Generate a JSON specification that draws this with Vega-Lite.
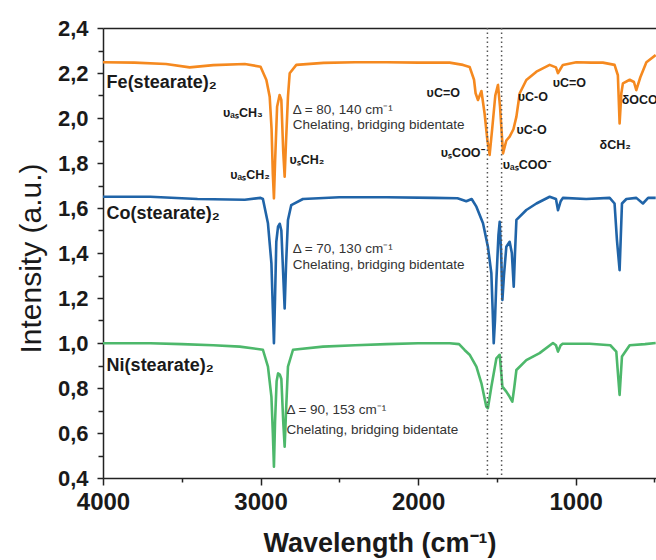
{
  "$schema": "https://vega.github.io/schema/vega-lite/v6.json",
  "autosize": "none",
  "padding": {"left": 103, "top": 28, "right": 0, "bottom": 82},
  "width": 553,
  "height": 450,
  "background": "white",
  "config": {
    "view": {"stroke": null},
    "font": "Liberation Sans",
    "axis": {"grid": false, "domainColor": "#222", "tickColor": "#222", "domainWidth": 1.5, "tickWidth": 1.5, "labelColor": "#1a1a1a", "titleColor": "#1a1a1a", "labelFont": "Liberation Sans", "titleFont": "Liberation Sans"}
  },
  "datasets": {
    "spectra": [
      {"s":"Fe","x":4000,"y":2.248},{"s":"Fe","x":3800,"y":2.246},{"s":"Fe","x":3600,"y":2.24},{"s":"Fe","x":3450,"y":2.225},{"s":"Fe","x":3300,"y":2.235},{"s":"Fe","x":3100,"y":2.24},{"s":"Fe","x":3000,"y":2.228},{"s":"Fe","x":2963,"y":2.169},{"s":"Fe","x":2942,"y":2.095},{"s":"Fe","x":2930,"y":1.95},{"s":"Fe","x":2922,"y":1.75},{"s":"Fe","x":2915,"y":1.643},{"s":"Fe","x":2908,"y":1.8},{"s":"Fe","x":2895,"y":2.05},{"s":"Fe","x":2879,"y":2.102},{"s":"Fe","x":2868,"y":2.08},{"s":"Fe","x":2856,"y":1.85},{"s":"Fe","x":2847,"y":1.739},{"s":"Fe","x":2838,"y":1.9},{"s":"Fe","x":2826,"y":2.095},{"s":"Fe","x":2815,"y":2.199},{"s":"Fe","x":2773,"y":2.236},{"s":"Fe","x":2600,"y":2.245},{"s":"Fe","x":2400,"y":2.248},{"s":"Fe","x":2200,"y":2.248},{"s":"Fe","x":2000,"y":2.246},{"s":"Fe","x":1800,"y":2.246},{"s":"Fe","x":1715,"y":2.236},{"s":"Fe","x":1673,"y":2.227},{"s":"Fe","x":1645,"y":2.17},{"s":"Fe","x":1635,"y":2.11},{"s":"Fe","x":1620,"y":2.08},{"s":"Fe","x":1598,"y":2.12},{"s":"Fe","x":1578,"y":2.02},{"s":"Fe","x":1560,"y":1.9},{"s":"Fe","x":1546,"y":1.836},{"s":"Fe","x":1530,"y":1.95},{"s":"Fe","x":1510,"y":2.1},{"s":"Fe","x":1493,"y":2.147},{"s":"Fe","x":1480,"y":2.05},{"s":"Fe","x":1461,"y":1.843},{"s":"Fe","x":1440,"y":1.9},{"s":"Fe","x":1419,"y":1.917},{"s":"Fe","x":1395,"y":1.95},{"s":"Fe","x":1376,"y":2.006},{"s":"Fe","x":1355,"y":2.11},{"s":"Fe","x":1313,"y":2.169},{"s":"Fe","x":1249,"y":2.206},{"s":"Fe","x":1165,"y":2.236},{"s":"Fe","x":1125,"y":2.225},{"s":"Fe","x":1112,"y":2.199},{"s":"Fe","x":1095,"y":2.22},{"s":"Fe","x":1081,"y":2.236},{"s":"Fe","x":996,"y":2.248},{"s":"Fe","x":900,"y":2.246},{"s":"Fe","x":827,"y":2.246},{"s":"Fe","x":753,"y":2.236},{"s":"Fe","x":732,"y":2.19},{"s":"Fe","x":721,"y":1.976},{"s":"Fe","x":710,"y":2.11},{"s":"Fe","x":700,"y":2.154},{"s":"Fe","x":657,"y":2.17},{"s":"Fe","x":630,"y":2.16},{"s":"Fe","x":615,"y":2.124},{"s":"Fe","x":590,"y":2.18},{"s":"Fe","x":551,"y":2.248},{"s":"Fe","x":492,"y":2.28},
      {"s":"Co","x":4000,"y":1.65},{"s":"Co","x":3700,"y":1.65},{"s":"Co","x":3400,"y":1.64},{"s":"Co","x":3100,"y":1.637},{"s":"Co","x":3000,"y":1.645},{"s":"Co","x":2985,"y":1.64},{"s":"Co","x":2953,"y":1.532},{"s":"Co","x":2931,"y":1.354},{"s":"Co","x":2922,"y":1.15},{"s":"Co","x":2915,"y":0.999},{"s":"Co","x":2908,"y":1.2},{"s":"Co","x":2900,"y":1.45},{"s":"Co","x":2889,"y":1.517},{"s":"Co","x":2878,"y":1.53},{"s":"Co","x":2868,"y":1.5},{"s":"Co","x":2856,"y":1.3},{"s":"Co","x":2847,"y":1.154},{"s":"Co","x":2838,"y":1.35},{"s":"Co","x":2826,"y":1.547},{"s":"Co","x":2805,"y":1.613},{"s":"Co","x":2731,"y":1.64},{"s":"Co","x":2500,"y":1.648},{"s":"Co","x":2200,"y":1.648},{"s":"Co","x":1900,"y":1.645},{"s":"Co","x":1750,"y":1.643},{"s":"Co","x":1694,"y":1.63},{"s":"Co","x":1660,"y":1.64},{"s":"Co","x":1630,"y":1.606},{"s":"Co","x":1588,"y":1.532},{"s":"Co","x":1557,"y":1.428},{"s":"Co","x":1535,"y":1.31},{"s":"Co","x":1527,"y":1.15},{"s":"Co","x":1520,"y":0.999},{"s":"Co","x":1512,"y":1.1},{"s":"Co","x":1503,"y":1.28},{"s":"Co","x":1490,"y":1.48},{"s":"Co","x":1482,"y":1.539},{"s":"Co","x":1473,"y":1.4},{"s":"Co","x":1465,"y":1.191},{"s":"Co","x":1455,"y":1.3},{"s":"Co","x":1440,"y":1.428},{"s":"Co","x":1419,"y":1.45},{"s":"Co","x":1405,"y":1.4},{"s":"Co","x":1393,"y":1.25},{"s":"Co","x":1385,"y":1.4},{"s":"Co","x":1376,"y":1.547},{"s":"Co","x":1313,"y":1.591},{"s":"Co","x":1249,"y":1.62},{"s":"Co","x":1165,"y":1.65},{"s":"Co","x":1125,"y":1.64},{"s":"Co","x":1112,"y":1.59},{"s":"Co","x":1095,"y":1.63},{"s":"Co","x":1081,"y":1.645},{"s":"Co","x":933,"y":1.64},{"s":"Co","x":784,"y":1.645},{"s":"Co","x":753,"y":1.62},{"s":"Co","x":738,"y":1.458},{"s":"Co","x":721,"y":1.324},{"s":"Co","x":706,"y":1.62},{"s":"Co","x":678,"y":1.64},{"s":"Co","x":615,"y":1.645},{"s":"Co","x":573,"y":1.62},{"s":"Co","x":540,"y":1.645},{"s":"Co","x":492,"y":1.645},
      {"s":"Ni","x":4000,"y":0.999},{"s":"Ni","x":3700,"y":0.999},{"s":"Ni","x":3500,"y":0.995},{"s":"Ni","x":3300,"y":0.99},{"s":"Ni","x":3132,"y":0.984},{"s":"Ni","x":2985,"y":0.97},{"s":"Ni","x":2953,"y":0.895},{"s":"Ni","x":2931,"y":0.761},{"s":"Ni","x":2922,"y":0.6},{"s":"Ni","x":2915,"y":0.45},{"s":"Ni","x":2908,"y":0.65},{"s":"Ni","x":2898,"y":0.83},{"s":"Ni","x":2889,"y":0.865},{"s":"Ni","x":2878,"y":0.86},{"s":"Ni","x":2868,"y":0.84},{"s":"Ni","x":2856,"y":0.65},{"s":"Ni","x":2847,"y":0.539},{"s":"Ni","x":2838,"y":0.7},{"s":"Ni","x":2826,"y":0.895},{"s":"Ni","x":2794,"y":0.97},{"s":"Ni","x":2604,"y":0.984},{"s":"Ni","x":2400,"y":0.99},{"s":"Ni","x":2200,"y":0.995},{"s":"Ni","x":2000,"y":0.999},{"s":"Ni","x":1800,"y":0.999},{"s":"Ni","x":1740,"y":0.995},{"s":"Ni","x":1705,"y":0.969},{"s":"Ni","x":1673,"y":0.948},{"s":"Ni","x":1630,"y":0.895},{"s":"Ni","x":1598,"y":0.821},{"s":"Ni","x":1567,"y":0.717},{"s":"Ni","x":1557,"y":0.71},{"s":"Ni","x":1535,"y":0.806},{"s":"Ni","x":1503,"y":0.932},{"s":"Ni","x":1482,"y":0.948},{"s":"Ni","x":1465,"y":0.806},{"s":"Ni","x":1440,"y":0.784},{"s":"Ni","x":1419,"y":0.761},{"s":"Ni","x":1402,"y":0.739},{"s":"Ni","x":1390,"y":0.8},{"s":"Ni","x":1376,"y":0.88},{"s":"Ni","x":1313,"y":0.924},{"s":"Ni","x":1229,"y":0.955},{"s":"Ni","x":1144,"y":1.0},{"s":"Ni","x":1125,"y":0.99},{"s":"Ni","x":1112,"y":0.962},{"s":"Ni","x":1095,"y":0.99},{"s":"Ni","x":1081,"y":0.997},{"s":"Ni","x":911,"y":0.997},{"s":"Ni","x":780,"y":0.99},{"s":"Ni","x":742,"y":0.962},{"s":"Ni","x":730,"y":0.85},{"s":"Ni","x":721,"y":0.769},{"s":"Ni","x":706,"y":0.94},{"s":"Ni","x":657,"y":0.99},{"s":"Ni","x":560,"y":0.995},{"s":"Ni","x":492,"y":1.0}
    ],
    "dotted": [{"x": 1560}, {"x": 1470}],
    "samples": [
      {"t": "Fe(stearate)₂", "x": 3977, "y": 2.156},
      {"t": "Co(stearate)₂", "x": 3977, "y": 1.573},
      {"t": "Ni(stearate)₂", "x": 3977, "y": 0.898}
    ],
    "notes": [
      {"t": "Δ = 80, 140 cm⁻¹", "x": 2796, "y": 2.036},
      {"t": "Chelating, bridging bidentate", "x": 2796, "y": 1.969},
      {"t": "Δ = 70, 130 cm⁻¹", "x": 2796, "y": 1.416},
      {"t": "Chelating, bridging bidentate", "x": 2796, "y": 1.345},
      {"t": "Δ = 90, 153 cm⁻¹", "x": 2836, "y": 0.702},
      {"t": "Chelating, bridging bidentate", "x": 2836, "y": 0.613}
    ],
    "peaksRight": [
      {"t": "υₐₛCH₃", "x": 2986, "y": 2.022},
      {"t": "υₐₛCH₂", "x": 2941, "y": 1.747},
      {"t": "υₛCOO⁻", "x": 1578, "y": 1.844}
    ],
    "peaksLeft": [
      {"t": "υₛCH₂", "x": 2816, "y": 1.813},
      {"t": "υC=O", "x": 1946, "y": 2.11},
      {"t": "υₐₛCOO⁻", "x": 1463, "y": 1.791},
      {"t": "υC-O", "x": 1368, "y": 2.095},
      {"t": "υC=O", "x": 1146, "y": 2.154},
      {"t": "υC-O", "x": 1375, "y": 1.947},
      {"t": "δCH₂", "x": 848, "y": 1.88},
      {"t": "δOCO", "x": 708, "y": 2.08}
    ]
  },
  "resolve": {"axis": {"x": "independent", "y": "independent"}},
  "layer": [
    {
      "data": {"name": "spectra"},
      "mark": {"type": "line", "strokeWidth": 2.6, "strokeJoin": "round"},
      "encoding": {
        "x": {"field": "x", "type": "quantitative",
          "scale": {"domain": [490, 4000], "reverse": true, "nice": false, "zero": false},
          "axis": {"orient": "bottom", "values": [4000, 3000, 2000, 1000], "format": "d", "tickSize": 7, "labelPadding": 5, "labelFontSize": 24, "labelFontWeight": "bold", "labelFlush": false, "labelOverlap": false, "title": "Wavelength (cm⁻¹)", "titleFontSize": 27, "titleFontWeight": "bold", "titleY": 73, "titleBaseline": "alphabetic"}},
        "y": {"field": "y", "type": "quantitative",
          "scale": {"domain": [0.4, 2.4], "nice": false, "zero": false},
          "axis": {"orient": "left", "values": [0.4, 0.6, 0.8, 1.0, 1.2, 1.4, 1.6, 1.8, 2.0, 2.2, 2.4], "labelExpr": "replace(format(datum.value, '.1f'), '.', ',')", "tickSize": 6, "labelPadding": 9, "labelFontSize": 22, "labelFontWeight": "bold", "labelFlush": false, "labelOverlap": false, "title": "Intensity (a.u.)", "titleFontSize": 30, "titleFontWeight": "normal", "titleX": -72, "titleY": 230, "titleAngle": -90, "titleAlign": "center", "titleBaseline": "middle"}},
        "color": {"field": "s", "type": "nominal", "scale": {"domain": ["Fe", "Co", "Ni"], "range": ["#F5891F", "#2064A8", "#4DB86B"]}, "legend": null},
        "detail": {"field": "s"},
        "order": {"field": "x", "type": "quantitative"}
      }
    },
    {
      "data": {"name": "dotted"},
      "mark": {"type": "rule", "color": "#555", "strokeDash": [1.5, 3], "strokeWidth": 1.5},
      "encoding": {
        "x": {"field": "x", "type": "quantitative",
          "axis": {"orient": "bottom", "values": [3500, 2500, 1500, 500], "tickSize": 4, "labels": false, "domain": false, "title": null}}
      }
    },
    {
      "data": {"name": "samples"},
      "mark": {"type": "text", "align": "left", "baseline": "middle", "fontSize": 18, "fontWeight": "bold", "color": "#1a1a1a", "font": "Liberation Sans"},
      "encoding": {
        "x": {"field": "x", "type": "quantitative", "axis": {"orient": "top", "ticks": false, "labels": false, "domain": true, "title": null}},
        "y": {"field": "y", "type": "quantitative", "axis": {"orient": "left", "values": [0.5, 0.7, 0.9, 1.1, 1.3, 1.5, 1.7, 1.9, 2.1, 2.3], "tickSize": 5, "labels": false, "domain": false, "title": null}},
        "text": {"field": "t"}
      }
    },
    {
      "data": {"name": "notes"},
      "mark": {"type": "text", "align": "left", "baseline": "middle", "fontSize": 13.5, "color": "#333", "font": "Liberation Sans"},
      "encoding": {
        "x": {"field": "x", "type": "quantitative", "axis": null},
        "y": {"field": "y", "type": "quantitative", "axis": null},
        "text": {"field": "t"}
      }
    },
    {
      "data": {"name": "peaksRight"},
      "mark": {"type": "text", "align": "right", "baseline": "middle", "fontSize": 12.5, "fontWeight": "bold", "color": "#1a1a1a", "font": "Liberation Sans"},
      "encoding": {
        "x": {"field": "x", "type": "quantitative", "axis": null},
        "y": {"field": "y", "type": "quantitative", "axis": null},
        "text": {"field": "t"}
      }
    },
    {
      "data": {"name": "peaksLeft"},
      "mark": {"type": "text", "align": "left", "baseline": "middle", "fontSize": 12.5, "fontWeight": "bold", "color": "#1a1a1a", "font": "Liberation Sans"},
      "encoding": {
        "x": {"field": "x", "type": "quantitative", "axis": null},
        "y": {"field": "y", "type": "quantitative", "axis": null},
        "text": {"field": "t"}
      }
    }
  ]
}
